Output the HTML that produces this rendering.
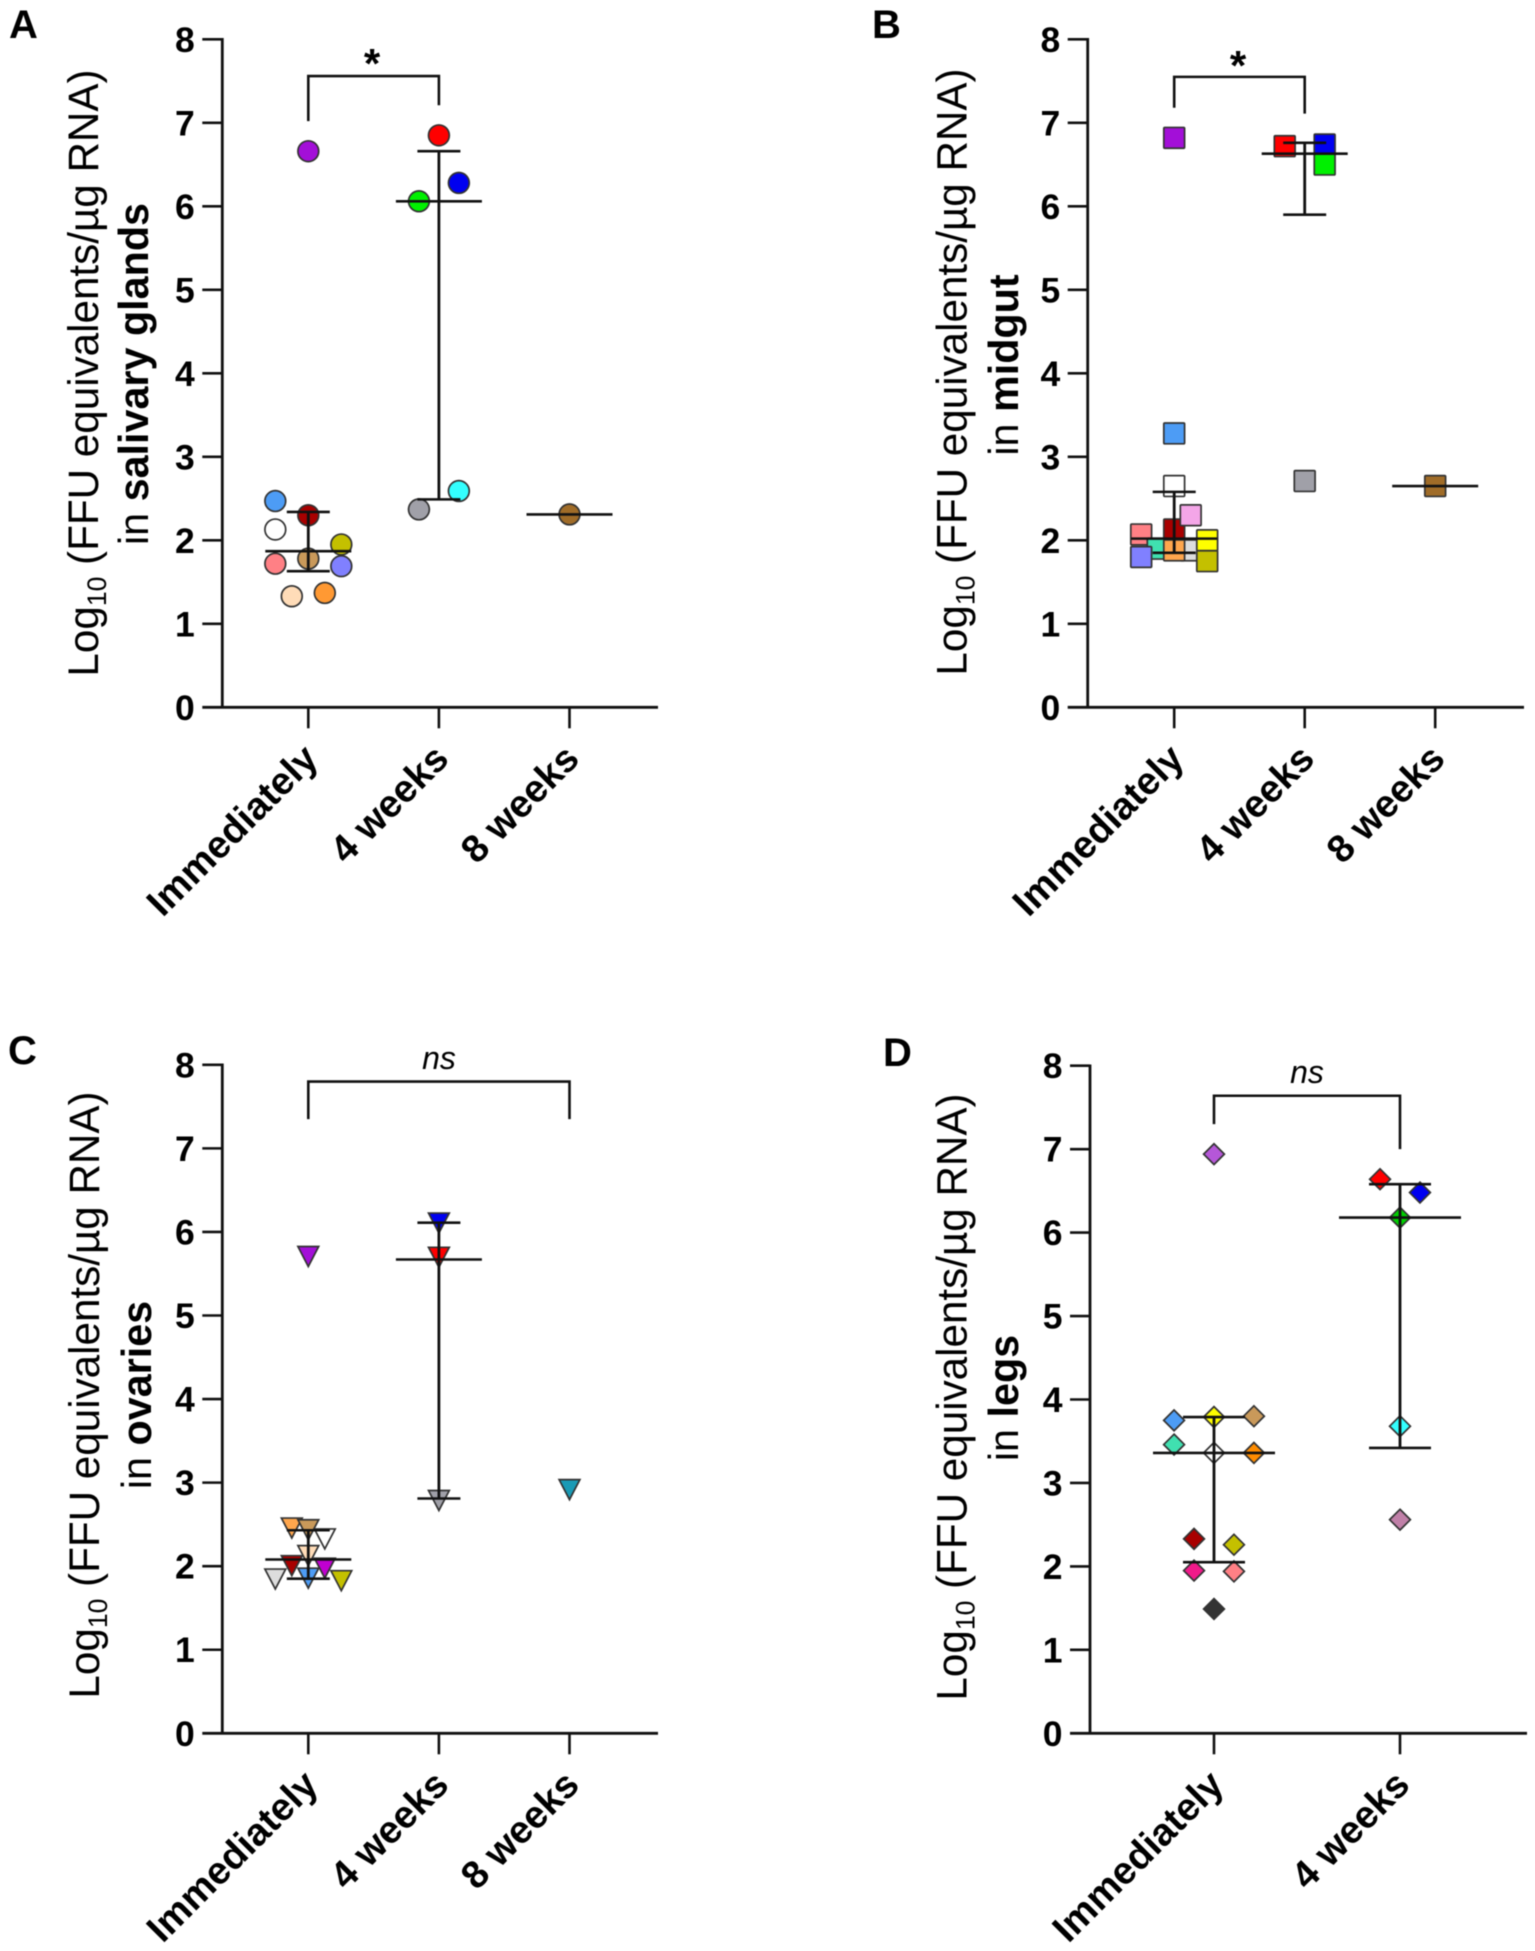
<!DOCTYPE html>
<html>
<head>
<meta charset="utf-8">
<title>FFU equivalents by tissue and time</title>
<style>
html,body{margin:0;padding:0;background:#fff;width:1535px;height:1951px;overflow:hidden}
svg{display:block;font-family:"Liberation Sans",Arial,sans-serif;filter:blur(0.45px)}
</style>
</head>
<body>
<svg id="figure" width="1535" height="1951" viewBox="0 0 1535 1951" xmlns="http://www.w3.org/2000/svg">
  <rect width="1535" height="1951" fill="#fff"/>

  <text x="9" y="38" font-size="40" font-weight="700">A</text>
  <text x="872" y="38" font-size="40" font-weight="700">B</text>
  <text x="8" y="1064" font-size="40" font-weight="700">C</text>
  <text x="883" y="1066" font-size="40" font-weight="700">D</text>

  <text transform="translate(98 373) rotate(-90)" text-anchor="middle" font-size="42.2">Log<tspan font-size="26.5" dy="8">10</tspan><tspan dy="-8"> (FFU equivalents/µg RNA)</tspan></text>
  <text transform="translate(148 374) rotate(-90)" text-anchor="middle" font-size="41.3">in <tspan font-weight="700">salivary glands</tspan></text>

  <text transform="translate(966.5 372) rotate(-90)" text-anchor="middle" font-size="42.2">Log<tspan font-size="26.5" dy="8">10</tspan><tspan dy="-8"> (FFU equivalents/µg RNA)</tspan></text>
  <text transform="translate(1018 365) rotate(-90)" text-anchor="middle" font-size="41.3">in <tspan font-weight="700">midgut</tspan></text>

  <text transform="translate(99 1395) rotate(-90)" text-anchor="middle" font-size="42.2">Log<tspan font-size="26.5" dy="8">10</tspan><tspan dy="-8"> (FFU equivalents/µg RNA)</tspan></text>
  <text transform="translate(151 1395) rotate(-90)" text-anchor="middle" font-size="41.3">in <tspan font-weight="700">ovaries</tspan></text>

  <text transform="translate(966.5 1397) rotate(-90)" text-anchor="middle" font-size="42.2">Log<tspan font-size="26.5" dy="8">10</tspan><tspan dy="-8"> (FFU equivalents/µg RNA)</tspan></text>
  <text transform="translate(1018 1398) rotate(-90)" text-anchor="middle" font-size="41.3">in <tspan font-weight="700">legs</tspan></text>

  <text x="372" y="78" text-anchor="middle" font-size="42" font-weight="700">*</text>
  <text x="1238" y="80" text-anchor="middle" font-size="42" font-weight="700">*</text>
  <text x="439" y="1069" text-anchor="middle" font-size="32" font-style="italic">ns</text>
  <text x="1307" y="1083" text-anchor="middle" font-size="32" font-style="italic">ns</text>
</svg>
<script>
const yTickLabels = ["0","1","2","3","4","5","6","7","8"];
const categoriesThree = ["Immediately","4 weeks","8 weeks"];
const categoriesTwo = ["Immediately","4 weeks"];

// Panel A: salivary glands
const aImmediatelyValues = [6.66,2.47,2.30,2.13,1.95,1.78,1.72,1.69,1.33,1.37];
const aImmediatelySlots  = [0,-2,0,-2,2,0,-2,2,-1,1];
const aImmediatelyColors = ["#a30fd8","#4d9cf5","#a80000","#ffffff","#c4c000","#c9995a","#ff8085","#8080ff","#ffdcb8","#ff9933"];
const aWeek4Values = [6.85,6.28,6.06,2.59,2.37];
const aWeek4Slots  = [0,1.21,-1.21,1.21,-1.21];
const aWeek4Colors = ["#ff0000","#0000f0","#00f000","#33ffff","#a0a0a8"];
const aWeek8Values = [2.31];
const aWeek8Slots  = [0];
const aWeek8Colors = ["#a06c28"];
const aMedians = [1.87,6.06,2.31];
const aErrorLow = [1.63,2.49,null];
const aErrorHigh = [2.34,6.66,null];

// Panel B: midgut
const bImmediatelyValues = [6.82,3.28,2.65,2.13,2.07,2.30,1.88,1.90,2.00,1.88,1.80,1.75];
const bImmediatelySlots  = [0,0,0,0,-2,1,1,-1,2,0,-2,2];
const bImmediatelyColors = ["#a30fd8","#4d9cf5","#ffffff","#a80000","#ff8085","#f4a6e8","#dddddd","#40e0b0","#ffff00","#ffa64d","#8080ff","#c4c000"];
const bWeek4Values = [6.72,6.74,6.50,2.71];
const bWeek4Slots  = [-1.21,1.21,1.21,0];
const bWeek4Colors = ["#ff0000","#0000f0","#00f000","#a0a0a8"];
const bWeek8Values = [2.65];
const bWeek8Slots  = [0];
const bWeek8Colors = ["#a06c28"];
const bMedians = [2.02,6.63,2.65];
const bErrorLow = [1.85,5.90,null];
const bErrorHigh = [2.58,6.76,null];

// Panel C: ovaries
const cImmediatelyValues = [5.73,2.48,2.46,2.35,2.15,2.03,2.00,1.87,1.88,1.85];
const cImmediatelySlots  = [0,-1,0,1,0,-1,1,-2,0,2];
const cImmediatelyColors = ["#a30fd8","#ffa64d","#c9995a","#ffffff","#ffdcb8","#a80000","#c000d0","#dddddd","#4d9cf5","#c4c000"];
const cWeek4Values = [6.13,5.72,2.81];
const cWeek4Slots  = [0,0,0];
const cWeek4Colors = ["#0000f0","#ff0000","#a0a0a8"];
const cWeek8Values = [2.94];
const cWeek8Slots  = [0];
const cWeek8Colors = ["#1a9ab5"];
const cMedians = [2.08,5.67,null];
const cErrorLow = [1.85,2.81,null];
const cErrorHigh = [2.43,6.11,null];

// Panel D: legs
const dImmediatelyValues = [6.94,3.75,3.79,3.80,3.46,3.36,3.36,2.33,2.26,1.95,1.94,1.49];
const dImmediatelySlots  = [0,-2.42,0,2.42,-2.42,0,2.42,-1.21,1.21,-1.21,1.21,0];
const dImmediatelyColors = ["#b557d8","#4d9cf5","#ffff00","#c9995a","#40e0b0","#ffffff","#ff8c00","#a80000","#c4c000","#f01a8a","#ff8085","#333333"];
const dWeek4Values = [6.64,6.48,6.18,3.68,2.56];
const dWeek4Slots  = [-1.21,1.21,0,0,0];
const dWeek4Colors = ["#ff0000","#0000f0","#00d000","#33ffff","#c080a8"];
const dMedians = [3.36,6.18];
const dErrorLow = [2.05,3.42];
const dErrorHigh = [3.79,6.58];

// Comparison brackets, in axis units: top of bracket, left foot, right foot
const aBracket = [7.56,7.02,7.21];
const bBracket = [7.55,7.18,7.11];
const cBracket = [7.80,7.35,7.35];
const dBracket = [7.64,7.30,7.00];

const NS = "http://www.w3.org/2000/svg";
const svg = document.getElementById("figure");

function mk(tag, attrs, parent) {
  const el = document.createElementNS(NS, tag);
  for (const k in attrs) el.setAttribute(k, attrs[k]);
  parent.appendChild(el);
  return el;
}

function marker(shape, x, y, color, g) {
  const r = 10.4;
  const style = {fill: color, stroke: "#333", "stroke-width": 1.7};
  if (shape === "circle") return mk("circle", Object.assign({cx: x, cy: y, r: r}, style), g);
  if (shape === "square") return mk("rect", Object.assign({x: x - r, y: y - r, width: 2 * r, height: 2 * r, rx: 1}, style), g);
  if (shape === "triangle") return mk("polygon", Object.assign({points: (x - r) + "," + (y - 8) + " " + (x + r) + "," + (y - 8) + " " + x + "," + (y + 12)}, style), g);
  return mk("polygon", Object.assign({points: x + "," + (y - r) + " " + (x + r) + "," + y + " " + x + "," + (y + r) + " " + (x - r) + "," + y}, style), g);
}

function drawPanel(p) {
  const xScale = function (i) { return p.catX0 + i * p.catStep; };
  const yScale = function (v) { return p.y0 - v * (p.y0 - p.y8) / 8; };
  const slotWidth = 16.5;
  const g = mk("g", {}, svg);
  
  
  const line = function (x1, y1, x2, y2, width, name) {
    const l = mk("line", {x1: x1, y1: y1, x2: x2, y2: y2, stroke: "#111", "stroke-width": width}, g);
    
    
    return l;
  };

  // Markers are drawn first so summary lines sit on top.
  p.series.forEach(function (s, i) {
    s.values.forEach(function (v, j) {
      const m = marker(p.shape, xScale(i) + s.slots[j] * slotWidth, yScale(v), s.colors[j], g);
      
      
    });
  });

  // Median lines and interquartile whiskers
  p.medians.forEach(function (m, i) {
    const cx = xScale(i);
    if (p.errLow[i] !== null) {
      line(cx, yScale(p.errLow[i]), cx, yScale(p.errHigh[i]), 2.8, "error-bar-" + p.id + "-" + i);
      line(cx - p.capHalf, yScale(p.errLow[i]), cx + p.capHalf, yScale(p.errLow[i]), 2.6, "error-cap-low-" + p.id + "-" + i);
      line(cx - p.capHalf, yScale(p.errHigh[i]), cx + p.capHalf, yScale(p.errHigh[i]), 2.6, "error-cap-high-" + p.id + "-" + i);
    }
    if (m !== null) {
      line(cx - p.medHalf, yScale(m), cx + p.medHalf, yScale(m), 2.6, "median-line-" + p.id + "-" + i);
    }
  });

  // Axes
  line(p.axisX, p.y8 - 1.25, p.axisX, p.y0 + 1.25, 2.8, "y-axis-" + p.id);
  line(p.axisX - 20, p.y0, p.xEnd, p.y0, 2.8, "x-axis-" + p.id);
  yTickLabels.forEach(function (label, i) {
    const v = Number(label);
    if (v > 0) line(p.axisX - 20, yScale(v), p.axisX, yScale(v), 2.6, "y-tick-" + p.id + "-" + label);
    const t = mk("text", {x: p.axisX - 27.5, y: yScale(v) + 12.5, "text-anchor": "end", "font-size": 35.5, "font-weight": 700}, g);
    t.textContent = label;
    
    
  });
  p.categories.forEach(function (label, i) {
    const cx = xScale(i);
    line(cx, p.y0, cx, p.y0 + 21, 2.6, "x-tick-" + p.id + "-" + i);
    const ax = cx + 11.7;
    const ay = p.y0 + 53.5;
    const t = mk("text", {transform: "translate(" + ax + " " + ay + ") rotate(-45)", "text-anchor": "end", "font-size": 38.5, "font-weight": 700}, g);
    t.textContent = label;
    
    
  });

  // Significance bracket
  const xL = xScale(p.bracketFrom);
  const xR = xScale(p.bracketTo);
  const br = mk("polyline", {
    points: xL + "," + yScale(p.bracket[1]) + " " + xL + "," + yScale(p.bracket[0]) + " " + xR + "," + yScale(p.bracket[0]) + " " + xR + "," + yScale(p.bracket[2]),
    fill: "none", stroke: "#111", "stroke-width": 2.6
  }, g);
  
  
}

drawPanel({
  id: "a", shape: "circle", axisX: 222.3, xEnd: 658, y0: 707.3, y8: 39.3, catX0: 308.3, catStep: 130.6, capHalf: 21.5, medHalf: 43,
  categories: categoriesThree, medians: aMedians, errLow: aErrorLow, errHigh: aErrorHigh, bracket: aBracket, bracketFrom: 0, bracketTo: 1,
  series: [
    {values: aImmediatelyValues, slots: aImmediatelySlots, colors: aImmediatelyColors},
    {values: aWeek4Values, slots: aWeek4Slots, colors: aWeek4Colors},
    {values: aWeek8Values, slots: aWeek8Slots, colors: aWeek8Colors}
  ]
});
drawPanel({
  id: "b", shape: "square", axisX: 1087.7, xEnd: 1524, y0: 707.3, y8: 39.3, catX0: 1174.2, catStep: 130.5, capHalf: 21.5, medHalf: 43,
  categories: categoriesThree, medians: bMedians, errLow: bErrorLow, errHigh: bErrorHigh, bracket: bBracket, bracketFrom: 0, bracketTo: 1,
  series: [
    {values: bImmediatelyValues, slots: bImmediatelySlots, colors: bImmediatelyColors},
    {values: bWeek4Values, slots: bWeek4Slots, colors: bWeek4Colors},
    {values: bWeek8Values, slots: bWeek8Slots, colors: bWeek8Colors}
  ]
});
drawPanel({
  id: "c", shape: "triangle", axisX: 222.3, xEnd: 658, y0: 1733.3, y8: 1064.8, catX0: 308.3, catStep: 130.6, capHalf: 21.5, medHalf: 43,
  categories: categoriesThree, medians: cMedians, errLow: cErrorLow, errHigh: cErrorHigh, bracket: cBracket, bracketFrom: 0, bracketTo: 2,
  series: [
    {values: cImmediatelyValues, slots: cImmediatelySlots, colors: cImmediatelyColors},
    {values: cWeek4Values, slots: cWeek4Slots, colors: cWeek4Colors},
    {values: cWeek8Values, slots: cWeek8Slots, colors: cWeek8Colors}
  ]
});
drawPanel({
  id: "d", shape: "diamond", axisX: 1090, xEnd: 1527, y0: 1733.3, y8: 1065.7, catX0: 1214, catStep: 186, capHalf: 31, medHalf: 61,
  categories: categoriesTwo, medians: dMedians, errLow: dErrorLow, errHigh: dErrorHigh, bracket: dBracket, bracketFrom: 0, bracketTo: 1,
  series: [
    {values: dImmediatelyValues, slots: dImmediatelySlots, colors: dImmediatelyColors},
    {values: dWeek4Values, slots: dWeek4Slots, colors: dWeek4Colors}
  ]
});
</script>
</body>
</html>
